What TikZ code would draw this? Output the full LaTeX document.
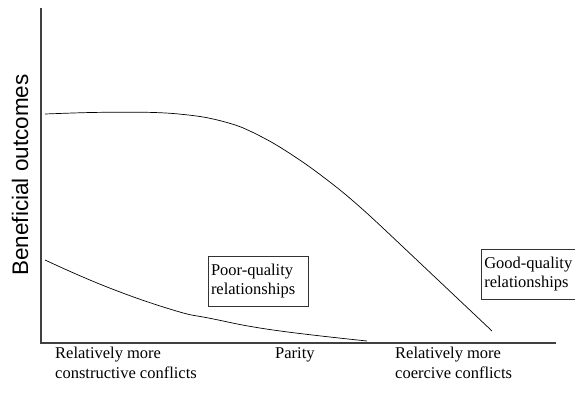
\documentclass[tikz,border=0pt]{standalone}
\usepackage{fontspec}
\setmainfont{Liberation Serif}
\setsansfont{Liberation Sans}
\usetikzlibrary{calc}

\tikzset{
  axisline/.style={line width=1.1pt, black!75},
  curveline/.style={line width=0.7pt},
  keybox/.style={draw, line width=0.6pt, black!80, text=black, align=left, inner sep=3pt,
    font=\fontsize{16.5}{18.5}\selectfont},
  ticktext/.style={align=left, inner sep=0pt, font=\fontsize{16.5}{19.5}\selectfont}
}

\begin{document}
\begin{tikzpicture}[x=1pt, y=1pt]

      \useasboundingbox (-41,-54) rectangle (534,343);

      % axes
      \coordinate (top) at (0,335);
      \coordinate (origin) at (0,0);
      \coordinate (xend) at (515,0);
      \draw[axisline] (top) -- (origin) -- (xend);

      \node[rotate=90, font=\sffamily\fontsize{22.5}{25}\selectfont] (ylabel) at (-21,168) {Beneficial outcomes};

      % good-quality curve
      \draw[curveline] plot[smooth, tension=0.5] coordinates {(4,229) (50,230.5) (99,230.8) (132,229.5) (166,225.3)
        (199,216.3) (232,200) (266,178) (299,153) (329,127) (379,80) (451,12)};

      % poor-quality curve
      \draw[curveline] plot[smooth, tension=0.75] coordinates {(4,83) (66,56) (132,33) (170,24.5) (232,13) (326,2)};

      \node[keybox, text width=94pt, minimum height=50pt] (poor) at (217,62) {Poor-quality\\relationships};
      \node[keybox, text width=100pt, minimum height=50pt, anchor=west] (good) at (440,69) {Good-quality\\relationships};

      \node[ticktext, anchor=base west] (left) at (14,-35) {Relatively more\\constructive conflicts};
      \node[ticktext, anchor=base west] (mid) at (234,-15.5) {Parity};
      \node[ticktext, anchor=base west] (right) at (354,-35) {Relatively more\\coercive conflicts};
    \end{tikzpicture}
\end{document}
